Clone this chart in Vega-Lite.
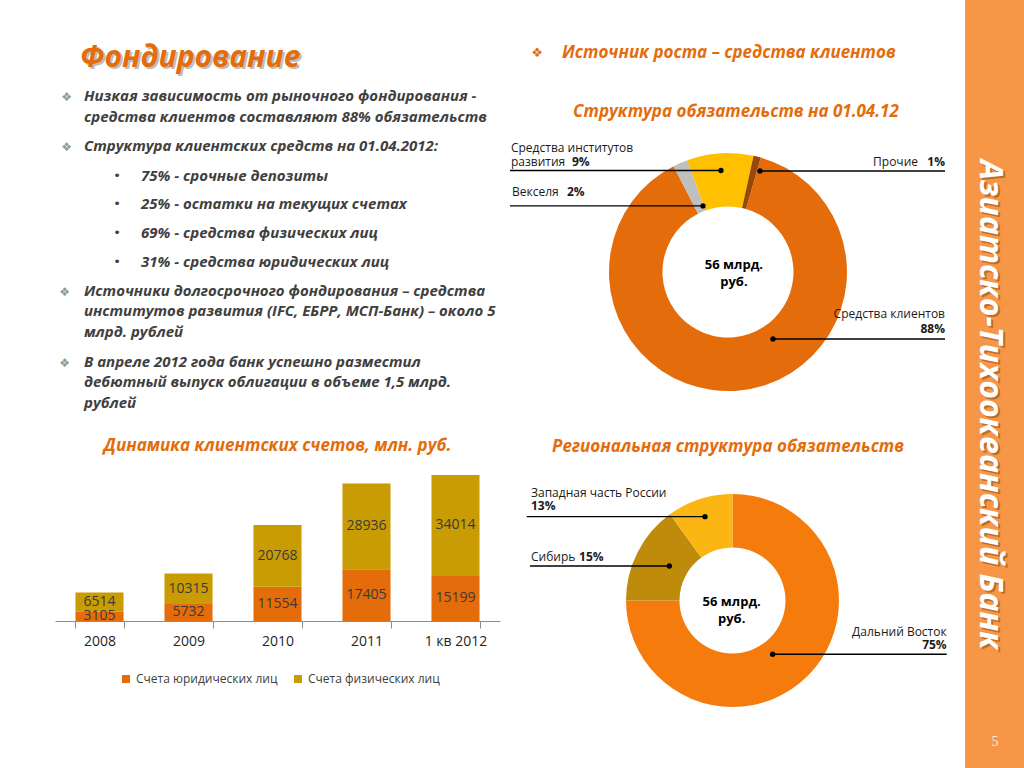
{
  "$schema": "https://vega.github.io/schema/vega-lite/v6.json",
  "padding": 0,
  "spacing": 0,
  "background": "white",
  "config": {
    "view": {"stroke": null},
    "concat": {"spacing": 0}
  },
  "resolve": {"scale": {"color": "independent", "theta": "independent", "x": "independent", "y": "independent"}},
  "datasets": {
    "bullets": [
      {"line": 0, "level": 0, "bullet": "❖", "text": "Низкая зависимость от рыночного фондирования -\nсредства клиентов составляют 88% обязательств"},
      {"line": 2, "level": 0, "bullet": "❖", "text": "Структура клиентских средств на 01.04.2012:"},
      {"line": 3, "level": 1, "bullet": "•", "text": "75% - срочные депозиты"},
      {"line": 4, "level": 1, "bullet": "•", "text": "25% - остатки на текущих счетах"},
      {"line": 5, "level": 1, "bullet": "•", "text": "69% - средства физических лиц"},
      {"line": 6, "level": 1, "bullet": "•", "text": "31% - средства юридических лиц"},
      {"line": 7, "level": 0, "bullet": "❖", "text": "Источники долгосрочного фондирования – средства\nинститутов развития (IFC, ЕБРР, МСП-Банк) – около 5\nмлрд. рублей"},
      {"line": 10, "level": 0, "bullet": "❖", "text": "В апреле 2012 года банк успешно разместил\nдебютный выпуск облигации в объеме 1,5 млрд.\nрублей"}
    ],
    "accounts": [
      {"period": "2008", "type": "Счета юридических лиц", "value": 3105},
      {"period": "2008", "type": "Счета физических лиц", "value": 6514},
      {"period": "2009", "type": "Счета юридических лиц", "value": 5732},
      {"period": "2009", "type": "Счета физических лиц", "value": 10315},
      {"period": "2010", "type": "Счета юридических лиц", "value": 11554},
      {"period": "2010", "type": "Счета физических лиц", "value": 20768},
      {"period": "2011", "type": "Счета юридических лиц", "value": 17405},
      {"period": "2011", "type": "Счета физических лиц", "value": 28936},
      {"period": "1 кв 2012", "type": "Счета юридических лиц", "value": 15199},
      {"period": "1 кв 2012", "type": "Счета физических лиц", "value": 34014}
    ],
    "liabilities": [
      {"n": 1, "item": "Средства клиентов", "share": 88, "label": "Средства клиентов", "pct": "88%"},
      {"n": 2, "item": "Векселя", "share": 2, "label": "Векселя", "pct": "2%"},
      {"n": 3, "item": "Средства институтов развития", "share": 9, "label": "Средства институтов\nразвития", "pct": "9%"},
      {"n": 4, "item": "Прочие", "share": 1, "label": "Прочие", "pct": "1%"}
    ],
    "regions": [
      {"n": 1, "item": "Дальний Восток", "share": 75, "label": "Дальний Восток", "pct": "75%"},
      {"n": 2, "item": "Сибирь", "share": 15, "label": "Сибирь", "pct": "15%"},
      {"n": 3, "item": "Западная часть России", "share": 10, "label": "Западная часть  России", "pct": "13%"}
    ],
    "notes": [
      {"id": "title", "text": "Фондирование"},
      {"id": "bullet", "text": "❖"},
      {"id": "h1", "text": "Источник роста – средства клиентов"},
      {"id": "h2", "text": "Структура обязательств на 01.04.12"},
      {"id": "c1", "text": "56 млрд.\nруб."},
      {"id": "h3", "text": "Региональная структура обязательств"},
      {"id": "c2", "text": "56 млрд.\nруб."},
      {"id": "band", "text": "Азиатско-Тихоокеанский Банк"},
      {"id": "page", "text": "5"}
    ]
  },
  "hconcat": [
    {
      "spacing": 0,
      "resolve": {"scale": {"color": "independent", "theta": "independent", "x": "independent", "y": "independent"}},
      "vconcat": [
        {
          "width": 505,
          "height": 437,
          "data": {"name": "bullets"},
          "resolve": {"scale": {"y": "independent"}},
          "layer": [
            {
              "data": {"name": "notes"},
              "transform": [{"filter": {"field": "id", "equal": "title"}}],
              "mark": {"type": "text", "align": "left", "baseline": "middle", "font": "Open Sans", "fontSize": 30, "fontWeight": "bold", "fontStyle": "italic", "color": "#7f7f7f", "opacity": 0.5, "dx": 2, "dy": 2},
              "encoding": {
                "x": {"datum": -0.07, "type": "quantitative", "scale": {"domain": [-1.4737, 7.386], "nice": false, "zero": false}, "axis": null},
                "y": {"datum": -1.158, "type": "quantitative", "scale": {"domain": [-3.318, 12.957], "nice": false, "zero": false, "reverse": true}, "axis": null},
                "text": {"field": "text"}
              }
            },
            {
              "data": {"name": "notes"},
              "transform": [{"filter": {"field": "id", "equal": "title"}}],
              "mark": {"type": "text", "align": "left", "baseline": "middle", "font": "Open Sans", "fontSize": 30, "fontWeight": "bold", "fontStyle": "italic", "color": "#E46C0A"},
              "encoding": {
                "x": {"datum": -0.07, "type": "quantitative", "scale": {"domain": [-1.4737, 7.386], "nice": false, "zero": false}, "axis": null},
                "y": {"datum": -1.158, "type": "quantitative", "scale": {"domain": [-3.318, 12.957], "nice": false, "zero": false, "reverse": true}, "axis": null},
                "text": {"field": "text"}
              }
            },
            {
              "transform": [{"filter": {"field": "level", "equal": 0}}, {"filter": {"field": "line", "lt": 3}}],
              "mark": {"type": "text", "align": "left", "baseline": "top", "font": "Open Sans", "fontSize": 15, "fontWeight": "bold", "fontStyle": "italic", "color": "#404040", "lineHeight": 20.5, "lineBreak": "\n"},
              "encoding": {
                "x": {"field": "level", "type": "quantitative", "scale": {"domain": [-1.4737, 7.386], "nice": false, "zero": false}, "axis": null},
                "y": {"field": "line", "type": "quantitative", "scale": {"domain": [-3.564, 13.916], "nice": false, "zero": false, "reverse": true}, "axis": null},
                "text": {"field": "text"}
              }
            },
            {
              "transform": [{"filter": {"field": "level", "equal": 0}}, {"filter": {"field": "line", "lt": 3}}],
              "mark": {"type": "text", "align": "right", "baseline": "top", "font": "DejaVu Sans", "fontSize": 12, "color": "#8A9A8A", "dx": -12, "dy": 3},
              "encoding": {
                "x": {"field": "level", "type": "quantitative", "scale": {"domain": [-1.4737, 7.386], "nice": false, "zero": false}, "axis": null},
                "y": {"field": "line", "type": "quantitative", "scale": {"domain": [-3.564, 13.916], "nice": false, "zero": false, "reverse": true}, "axis": null},
                "text": {"field": "bullet"}
              }
            },
            {
              "transform": [{"filter": {"field": "level", "equal": 0}}, {"filter": {"field": "line", "gt": 6}}],
              "mark": {"type": "text", "align": "left", "baseline": "top", "font": "Open Sans", "fontSize": 15, "fontWeight": "bold", "fontStyle": "italic", "color": "#404040", "lineHeight": 20.5, "lineBreak": "\n"},
              "encoding": {
                "x": {"field": "level", "type": "quantitative", "scale": {"domain": [-1.4737, 7.386], "nice": false, "zero": false}, "axis": null},
                "y": {"field": "line", "type": "quantitative", "scale": {"domain": [-5.069, 13.503], "nice": false, "zero": false, "reverse": true}, "axis": null},
                "text": {"field": "text"}
              }
            },
            {
              "transform": [{"filter": {"field": "level", "equal": 0}}, {"filter": {"field": "line", "gt": 6}}],
              "mark": {"type": "text", "align": "right", "baseline": "top", "font": "DejaVu Sans", "fontSize": 12, "color": "#8A9A8A", "dx": -14, "dy": 3},
              "encoding": {
                "x": {"field": "level", "type": "quantitative", "scale": {"domain": [-1.4737, 7.386], "nice": false, "zero": false}, "axis": null},
                "y": {"field": "line", "type": "quantitative", "scale": {"domain": [-5.069, 13.503], "nice": false, "zero": false, "reverse": true}, "axis": null},
                "text": {"field": "bullet"}
              }
            },
            {
              "transform": [{"filter": {"field": "level", "equal": 1}}],
              "mark": {"type": "text", "align": "left", "baseline": "top", "font": "Open Sans", "fontSize": 15, "fontWeight": "bold", "fontStyle": "italic", "color": "#404040"},
              "encoding": {
                "x": {"field": "level", "type": "quantitative", "scale": {"domain": [-1.4737, 7.386], "nice": false, "zero": false}, "axis": null},
                "y": {"field": "line", "type": "quantitative", "scale": {"domain": [-2.881, 12.361], "nice": false, "zero": false, "reverse": true}, "axis": null},
                "text": {"field": "text"}
              }
            },
            {
              "transform": [{"filter": {"field": "level", "equal": 1}}],
              "mark": {"type": "text", "align": "center", "baseline": "top", "font": "DejaVu Sans", "fontSize": 13, "color": "#404040", "dx": -24, "dy": 1},
              "encoding": {
                "x": {"field": "level", "type": "quantitative", "scale": {"domain": [-1.4737, 7.386], "nice": false, "zero": false}, "axis": null},
                "y": {"field": "line", "type": "quantitative", "scale": {"domain": [-2.881, 12.361], "nice": false, "zero": false, "reverse": true}, "axis": null},
                "text": {"field": "bullet"}
              }
            }
          ]
        },
        {
          "spacing": 0,
          "resolve": {"scale": {"color": "independent", "x": "independent", "y": "independent"}},
          "hconcat": [
            {
              "width": 55,
              "height": 10,
              "data": {"values": [{}]},
              "mark": {"type": "point", "opacity": 0}
            },
            {
              "width": 445,
              "height": 150,
              "title": {"text": "Динамика клиентских счетов,  млн. руб.", "font": "Open Sans", "fontSize": 17, "fontWeight": "bold", "fontStyle": "italic", "color": "#E46C0A", "offset": 16, "anchor": "middle"},
              "data": {"name": "accounts"},
              "transform": [
                {"stack": "value", "groupby": ["period"], "sort": [{"field": "type", "order": "descending"}], "as": ["v0", "v1"]},
                {"calculate": "(datum.v0 + datum.v1) / 2", "as": "mid"}
              ],
              "encoding": {
                "x": {"field": "period", "type": "ordinal", "sort": null, "scale": {"paddingInner": 0.46, "paddingOuter": 0.23},
                  "axis": {"title": null, "labelAngle": 0, "labelFont": "Open Sans", "labelFontSize": 14, "labelColor": "#262626", "labelPadding": 6, "domainColor": "#8C8C8C", "tickColor": "#8C8C8C", "tickSize": 7, "tickBand": "extent"}}
              },
              "layer": [
                {
                  "mark": {"type": "bar"},
                  "encoding": {
                    "y": {"field": "v1", "type": "quantitative", "scale": {"domain": [0, 50560], "nice": false}, "axis": null},
                    "y2": {"field": "v0"},
                    "color": {"field": "type", "type": "nominal",
                      "scale": {"domain": ["Счета юридических лиц", "Счета физических лиц"], "range": ["#E46C0A", "#C99C04"]},
                      "legend": {"orient": "none", "legendX": 65, "legendY": 202, "direction": "horizontal", "title": null, "symbolType": "square", "symbolSize": 64, "labelFont": "Open Sans", "labelFontSize": 12, "labelColor": "#404040", "columnPadding": 14}}
                  }
                },
                {
                  "mark": {"type": "text", "font": "Open Sans", "fontSize": 14, "color": "#3A3A3A", "baseline": "middle"},
                  "encoding": {
                    "y": {"field": "mid", "type": "quantitative"},
                    "text": {"field": "value", "type": "quantitative", "format": "d"}
                  }
                }
              ]
            }
          ]
        }
      ]
    },
    {
      "spacing": 0,
      "resolve": {"scale": {"color": "independent", "theta": "independent", "x": "independent", "y": "independent"}},
      "vconcat": [
        {
          "width": 460,
          "height": 430,
          "data": {"name": "liabilities"},
          "layer": [
            {
              "mark": {"type": "arc", "outerRadius": 119, "innerRadius": 65.5},
              "encoding": {
                "x": {"datum": 0, "type": "quantitative", "scale": {"domain": [-1.874, 1.992], "nice": false, "zero": false}, "axis": null},
                "y": {"datum": 0, "type": "quantitative", "scale": {"domain": [-2.286, 1.328], "nice": false, "zero": false, "reverse": true}, "axis": null},
                "theta": {"field": "share", "type": "quantitative", "stack": true, "scale": {"range": [0.2793, 6.5625]}},
                "order": {"field": "n", "type": "quantitative"},
                "color": {"field": "item", "type": "nominal", "scale": {"domain": ["Средства клиентов", "Векселя", "Средства институтов развития", "Прочие"], "range": ["#E46C0A", "#BFBFBF", "#FFC000", "#984807"]}, "legend": null}
              }
            },
            {
              "transform": [{"filter": {"field": "item", "equal": "Средства институтов развития"}}],
              "mark": {"type": "rule", "color": "#000000", "strokeWidth": 1.3},
              "encoding": {"x": {"datum": -1.832, "type": "quantitative", "scale": {"domain": [-1.874, 1.992], "nice": false, "zero": false}, "axis": null}, "x2": {"datum": -0.059}, "y": {"datum": -0.853, "type": "quantitative", "scale": {"domain": [-2.286, 1.328], "nice": false, "zero": false, "reverse": true}, "axis": null}}
            },
            {
              "transform": [{"filter": {"field": "item", "equal": "Векселя"}}],
              "mark": {"type": "rule", "color": "#000000", "strokeWidth": 1.3},
              "encoding": {"x": {"datum": -1.832, "type": "quantitative", "scale": {"domain": [-1.874, 1.992], "nice": false, "zero": false}, "axis": null}, "x2": {"datum": -0.21}, "y": {"datum": -0.555, "type": "quantitative", "scale": {"domain": [-2.286, 1.328], "nice": false, "zero": false, "reverse": true}, "axis": null}}
            },
            {
              "transform": [{"filter": {"field": "item", "equal": "Прочие"}}],
              "mark": {"type": "rule", "color": "#000000", "strokeWidth": 1.3},
              "encoding": {"x": {"datum": 0.269, "type": "quantitative", "scale": {"domain": [-1.874, 1.992], "nice": false, "zero": false}, "axis": null}, "x2": {"datum": 1.824}, "y": {"datum": -0.849, "type": "quantitative", "scale": {"domain": [-2.286, 1.328], "nice": false, "zero": false, "reverse": true}, "axis": null}}
            },
            {
              "transform": [{"filter": {"field": "item", "equal": "Средства клиентов"}}],
              "mark": {"type": "rule", "color": "#000000", "strokeWidth": 1.3},
              "encoding": {"x": {"datum": 0.378, "type": "quantitative", "scale": {"domain": [-1.874, 1.992], "nice": false, "zero": false}, "axis": null}, "x2": {"datum": 1.824}, "y": {"datum": 0.563, "type": "quantitative", "scale": {"domain": [-2.286, 1.328], "nice": false, "zero": false, "reverse": true}, "axis": null}}
            },
            {
              "transform": [{"filter": {"field": "item", "equal": "Средства институтов развития"}}],
              "mark": {"type": "point", "filled": true, "size": 28, "color": "#000000", "opacity": 1},
              "encoding": {"x": {"datum": -0.059, "type": "quantitative", "scale": {"domain": [-1.874, 1.992], "nice": false, "zero": false}, "axis": null}, "y": {"datum": -0.853, "type": "quantitative", "scale": {"domain": [-2.286, 1.328], "nice": false, "zero": false, "reverse": true}, "axis": null}}
            },
            {
              "transform": [{"filter": {"field": "item", "equal": "Векселя"}}],
              "mark": {"type": "point", "filled": true, "size": 28, "color": "#000000", "opacity": 1},
              "encoding": {"x": {"datum": -0.21, "type": "quantitative", "scale": {"domain": [-1.874, 1.992], "nice": false, "zero": false}, "axis": null}, "y": {"datum": -0.555, "type": "quantitative", "scale": {"domain": [-2.286, 1.328], "nice": false, "zero": false, "reverse": true}, "axis": null}}
            },
            {
              "transform": [{"filter": {"field": "item", "equal": "Прочие"}}],
              "mark": {"type": "point", "filled": true, "size": 28, "color": "#000000", "opacity": 1},
              "encoding": {"x": {"datum": 0.269, "type": "quantitative", "scale": {"domain": [-1.874, 1.992], "nice": false, "zero": false}, "axis": null}, "y": {"datum": -0.849, "type": "quantitative", "scale": {"domain": [-2.286, 1.328], "nice": false, "zero": false, "reverse": true}, "axis": null}}
            },
            {
              "transform": [{"filter": {"field": "item", "equal": "Средства клиентов"}}],
              "mark": {"type": "point", "filled": true, "size": 28, "color": "#000000", "opacity": 1},
              "encoding": {"x": {"datum": 0.378, "type": "quantitative", "scale": {"domain": [-1.874, 1.992], "nice": false, "zero": false}, "axis": null}, "y": {"datum": 0.563, "type": "quantitative", "scale": {"domain": [-2.286, 1.328], "nice": false, "zero": false, "reverse": true}, "axis": null}}
            },
            {
              "transform": [{"filter": {"field": "item", "equal": "Средства институтов развития"}}],
              "mark": {"type": "text", "align": "left", "baseline": "middle", "font": "Open Sans", "fontSize": 12, "color": "#1A1A1A", "lineBreak": "\n", "lineHeight": 14},
              "encoding": {"x": {"datum": -1.824, "type": "quantitative", "scale": {"domain": [-1.874, 1.992], "nice": false, "zero": false}, "axis": null}, "y": {"datum": -1.042, "type": "quantitative", "scale": {"domain": [-2.286, 1.328], "nice": false, "zero": false, "reverse": true}, "axis": null}, "text": {"field": "label"}}
            },
            {
              "transform": [{"filter": {"field": "item", "equal": "Векселя"}}],
              "mark": {"type": "text", "align": "left", "baseline": "middle", "font": "Open Sans", "fontSize": 12, "color": "#1A1A1A"},
              "encoding": {"x": {"datum": -1.815, "type": "quantitative", "scale": {"domain": [-1.874, 1.992], "nice": false, "zero": false}, "axis": null}, "y": {"datum": -0.672, "type": "quantitative", "scale": {"domain": [-2.286, 1.328], "nice": false, "zero": false, "reverse": true}, "axis": null}, "text": {"field": "label"}}
            },
            {
              "transform": [{"filter": {"field": "item", "equal": "Прочие"}}],
              "mark": {"type": "text", "align": "right", "baseline": "middle", "font": "Open Sans", "fontSize": 12, "color": "#1A1A1A"},
              "encoding": {"x": {"datum": 1.597, "type": "quantitative", "scale": {"domain": [-1.874, 1.992], "nice": false, "zero": false}, "axis": null}, "y": {"datum": -0.924, "type": "quantitative", "scale": {"domain": [-2.286, 1.328], "nice": false, "zero": false, "reverse": true}, "axis": null}, "text": {"field": "label"}}
            },
            {
              "transform": [{"filter": {"field": "item", "equal": "Средства клиентов"}}],
              "mark": {"type": "text", "align": "right", "baseline": "middle", "font": "Open Sans", "fontSize": 12, "color": "#1A1A1A"},
              "encoding": {"x": {"datum": 1.824, "type": "quantitative", "scale": {"domain": [-1.874, 1.992], "nice": false, "zero": false}, "axis": null}, "y": {"datum": 0.353, "type": "quantitative", "scale": {"domain": [-2.286, 1.328], "nice": false, "zero": false, "reverse": true}, "axis": null}, "text": {"field": "label"}}
            },
            {
              "transform": [{"filter": {"field": "item", "equal": "Средства институтов развития"}}],
              "mark": {"type": "text", "align": "left", "baseline": "middle", "font": "Open Sans", "fontSize": 12, "fontWeight": "bold", "color": "#1A1A1A"},
              "encoding": {"x": {"datum": -1.311, "type": "quantitative", "scale": {"domain": [-1.874, 1.992], "nice": false, "zero": false}, "axis": null}, "y": {"datum": -0.924, "type": "quantitative", "scale": {"domain": [-2.286, 1.328], "nice": false, "zero": false, "reverse": true}, "axis": null}, "text": {"field": "pct"}}
            },
            {
              "transform": [{"filter": {"field": "item", "equal": "Векселя"}}],
              "mark": {"type": "text", "align": "left", "baseline": "middle", "font": "Open Sans", "fontSize": 12, "fontWeight": "bold", "color": "#1A1A1A"},
              "encoding": {"x": {"datum": -1.353, "type": "quantitative", "scale": {"domain": [-1.874, 1.992], "nice": false, "zero": false}, "axis": null}, "y": {"datum": -0.672, "type": "quantitative", "scale": {"domain": [-2.286, 1.328], "nice": false, "zero": false, "reverse": true}, "axis": null}, "text": {"field": "pct"}}
            },
            {
              "transform": [{"filter": {"field": "item", "equal": "Прочие"}}],
              "mark": {"type": "text", "align": "right", "baseline": "middle", "font": "Open Sans", "fontSize": 12, "fontWeight": "bold", "color": "#1A1A1A"},
              "encoding": {"x": {"datum": 1.824, "type": "quantitative", "scale": {"domain": [-1.874, 1.992], "nice": false, "zero": false}, "axis": null}, "y": {"datum": -0.924, "type": "quantitative", "scale": {"domain": [-2.286, 1.328], "nice": false, "zero": false, "reverse": true}, "axis": null}, "text": {"field": "pct"}}
            },
            {
              "transform": [{"filter": {"field": "item", "equal": "Средства клиентов"}}],
              "mark": {"type": "text", "align": "right", "baseline": "middle", "font": "Open Sans", "fontSize": 12, "fontWeight": "bold", "color": "#1A1A1A"},
              "encoding": {"x": {"datum": 1.824, "type": "quantitative", "scale": {"domain": [-1.874, 1.992], "nice": false, "zero": false}, "axis": null}, "y": {"datum": 0.479, "type": "quantitative", "scale": {"domain": [-2.286, 1.328], "nice": false, "zero": false, "reverse": true}, "axis": null}, "text": {"field": "pct"}}
            },
            {
              "data": {"name": "notes"},
              "transform": [{"filter": {"field": "id", "equal": "c1"}}],
              "mark": {"type": "text", "align": "center", "baseline": "middle", "font": "Open Sans", "fontSize": 13, "fontWeight": "bold", "color": "#000000", "lineBreak": "\n", "lineHeight": 17},
              "encoding": {"x": {"datum": 0.05, "type": "quantitative", "scale": {"domain": [-1.874, 1.992], "nice": false, "zero": false}, "axis": null}, "y": {"datum": -0.059, "type": "quantitative", "scale": {"domain": [-2.286, 1.328], "nice": false, "zero": false, "reverse": true}, "axis": null}, "text": {"field": "text"}}
            },
            {
              "data": {"name": "notes"},
              "transform": [{"filter": {"field": "id", "equal": "bullet"}}],
              "mark": {"type": "text", "align": "center", "baseline": "middle", "font": "DejaVu Sans", "fontSize": 13, "color": "#E46C0A"},
              "encoding": {"x": {"datum": -1.605, "type": "quantitative", "scale": {"domain": [-1.874, 1.992], "nice": false, "zero": false}, "axis": null}, "y": {"datum": -1.84, "type": "quantitative", "scale": {"domain": [-2.286, 1.328], "nice": false, "zero": false, "reverse": true}, "axis": null}, "text": {"field": "text"}}
            },
            {
              "data": {"name": "notes"},
              "transform": [{"filter": {"field": "id", "equal": "h1"}}],
              "mark": {"type": "text", "align": "left", "baseline": "middle", "font": "Open Sans", "fontSize": 17, "fontWeight": "bold", "fontStyle": "italic", "color": "#E46C0A"},
              "encoding": {"x": {"datum": -1.395, "type": "quantitative", "scale": {"domain": [-1.874, 1.992], "nice": false, "zero": false}, "axis": null}, "y": {"datum": -1.84, "type": "quantitative", "scale": {"domain": [-2.286, 1.328], "nice": false, "zero": false, "reverse": true}, "axis": null}, "text": {"field": "text"}}
            },
            {
              "data": {"name": "notes"},
              "transform": [{"filter": {"field": "id", "equal": "h2"}}],
              "mark": {"type": "text", "align": "center", "baseline": "middle", "font": "Open Sans", "fontSize": 17, "fontWeight": "bold", "fontStyle": "italic", "color": "#E46C0A"},
              "encoding": {"x": {"datum": 0.067, "type": "quantitative", "scale": {"domain": [-1.874, 1.992], "nice": false, "zero": false}, "axis": null}, "y": {"datum": -1.345, "type": "quantitative", "scale": {"domain": [-2.286, 1.328], "nice": false, "zero": false, "reverse": true}, "axis": null}, "text": {"field": "text"}}
            }
          ]
        },
        {
          "width": 460,
          "height": 338,
          "data": {"name": "regions"},
          "layer": [
            {
              "mark": {"type": "arc", "outerRadius": 106.5, "innerRadius": 53},
              "encoding": {
                "x": {"datum": 0, "type": "quantitative", "scale": {"domain": [-2.136, 2.183], "nice": false, "zero": false}, "axis": null},
                "y": {"datum": 0, "type": "quantitative", "scale": {"domain": [-1.601, 1.573], "nice": false, "zero": false, "reverse": true}, "axis": null},
                "theta": {"field": "share", "type": "quantitative", "stack": true},
                "order": {"field": "n", "type": "quantitative"},
                "color": {"field": "item", "type": "nominal", "scale": {"domain": ["Дальний Восток", "Сибирь", "Западная часть России"], "range": ["#F47B0C", "#BF8B0B", "#FBB614"]}, "legend": null}
              }
            },
            {
              "transform": [{"filter": {"field": "item", "equal": "Западная часть России"}}],
              "mark": {"type": "rule", "color": "#000000", "strokeWidth": 1.3},
              "encoding": {"x": {"datum": -1.932, "type": "quantitative", "scale": {"domain": [-2.136, 2.183], "nice": false, "zero": false}, "axis": null}, "x2": {"datum": -0.258}, "y": {"datum": -0.787, "type": "quantitative", "scale": {"domain": [-1.601, 1.573], "nice": false, "zero": false, "reverse": true}, "axis": null}}
            },
            {
              "transform": [{"filter": {"field": "item", "equal": "Сибирь"}}],
              "mark": {"type": "rule", "color": "#000000", "strokeWidth": 1.3},
              "encoding": {"x": {"datum": -1.901, "type": "quantitative", "scale": {"domain": [-2.136, 2.183], "nice": false, "zero": false}, "axis": null}, "x2": {"datum": -0.593}, "y": {"datum": -0.324, "type": "quantitative", "scale": {"domain": [-1.601, 1.573], "nice": false, "zero": false, "reverse": true}, "axis": null}}
            },
            {
              "transform": [{"filter": {"field": "item", "equal": "Дальний Восток"}}],
              "mark": {"type": "rule", "color": "#000000", "strokeWidth": 1.3},
              "encoding": {"x": {"datum": 0.377, "type": "quantitative", "scale": {"domain": [-2.136, 2.183], "nice": false, "zero": false}, "axis": null}, "x2": {"datum": 2.011}, "y": {"datum": 0.505, "type": "quantitative", "scale": {"domain": [-1.601, 1.573], "nice": false, "zero": false, "reverse": true}, "axis": null}}
            },
            {
              "transform": [{"filter": {"field": "item", "equal": "Западная часть России"}}],
              "mark": {"type": "point", "filled": true, "size": 28, "color": "#000000", "opacity": 1},
              "encoding": {"x": {"datum": -0.258, "type": "quantitative", "scale": {"domain": [-2.136, 2.183], "nice": false, "zero": false}, "axis": null}, "y": {"datum": -0.787, "type": "quantitative", "scale": {"domain": [-1.601, 1.573], "nice": false, "zero": false, "reverse": true}, "axis": null}}
            },
            {
              "transform": [{"filter": {"field": "item", "equal": "Сибирь"}}],
              "mark": {"type": "point", "filled": true, "size": 28, "color": "#000000", "opacity": 1},
              "encoding": {"x": {"datum": -0.593, "type": "quantitative", "scale": {"domain": [-2.136, 2.183], "nice": false, "zero": false}, "axis": null}, "y": {"datum": -0.324, "type": "quantitative", "scale": {"domain": [-1.601, 1.573], "nice": false, "zero": false, "reverse": true}, "axis": null}}
            },
            {
              "transform": [{"filter": {"field": "item", "equal": "Дальний Восток"}}],
              "mark": {"type": "point", "filled": true, "size": 28, "color": "#000000", "opacity": 1},
              "encoding": {"x": {"datum": 0.377, "type": "quantitative", "scale": {"domain": [-2.136, 2.183], "nice": false, "zero": false}, "axis": null}, "y": {"datum": 0.505, "type": "quantitative", "scale": {"domain": [-1.601, 1.573], "nice": false, "zero": false, "reverse": true}, "axis": null}}
            },
            {
              "transform": [{"filter": {"field": "item", "equal": "Западная часть России"}}],
              "mark": {"type": "text", "align": "left", "baseline": "middle", "font": "Open Sans", "fontSize": 12, "color": "#1A1A1A"},
              "encoding": {"x": {"datum": -1.892, "type": "quantitative", "scale": {"domain": [-2.136, 2.183], "nice": false, "zero": false}, "axis": null}, "y": {"datum": -1.012, "type": "quantitative", "scale": {"domain": [-1.601, 1.573], "nice": false, "zero": false, "reverse": true}, "axis": null}, "text": {"field": "label"}}
            },
            {
              "transform": [{"filter": {"field": "item", "equal": "Сибирь"}}],
              "mark": {"type": "text", "align": "left", "baseline": "middle", "font": "Open Sans", "fontSize": 12, "color": "#1A1A1A"},
              "encoding": {"x": {"datum": -1.892, "type": "quantitative", "scale": {"domain": [-2.136, 2.183], "nice": false, "zero": false}, "axis": null}, "y": {"datum": -0.411, "type": "quantitative", "scale": {"domain": [-1.601, 1.573], "nice": false, "zero": false, "reverse": true}, "axis": null}, "text": {"field": "label"}}
            },
            {
              "transform": [{"filter": {"field": "item", "equal": "Дальний Восток"}}],
              "mark": {"type": "text", "align": "right", "baseline": "middle", "font": "Open Sans", "fontSize": 12, "color": "#1A1A1A"},
              "encoding": {"x": {"datum": 2.011, "type": "quantitative", "scale": {"domain": [-2.136, 2.183], "nice": false, "zero": false}, "axis": null}, "y": {"datum": 0.293, "type": "quantitative", "scale": {"domain": [-1.601, 1.573], "nice": false, "zero": false, "reverse": true}, "axis": null}, "text": {"field": "label"}}
            },
            {
              "transform": [{"filter": {"field": "item", "equal": "Западная часть России"}}],
              "mark": {"type": "text", "align": "left", "baseline": "middle", "font": "Open Sans", "fontSize": 12, "fontWeight": "bold", "color": "#1A1A1A"},
              "encoding": {"x": {"datum": -1.892, "type": "quantitative", "scale": {"domain": [-2.136, 2.183], "nice": false, "zero": false}, "axis": null}, "y": {"datum": -0.887, "type": "quantitative", "scale": {"domain": [-1.601, 1.573], "nice": false, "zero": false, "reverse": true}, "axis": null}, "text": {"field": "pct"}}
            },
            {
              "transform": [{"filter": {"field": "item", "equal": "Сибирь"}}],
              "mark": {"type": "text", "align": "left", "baseline": "middle", "font": "Open Sans", "fontSize": 12, "fontWeight": "bold", "color": "#1A1A1A"},
              "encoding": {"x": {"datum": -1.441, "type": "quantitative", "scale": {"domain": [-2.136, 2.183], "nice": false, "zero": false}, "axis": null}, "y": {"datum": -0.411, "type": "quantitative", "scale": {"domain": [-1.601, 1.573], "nice": false, "zero": false, "reverse": true}, "axis": null}, "text": {"field": "pct"}}
            },
            {
              "transform": [{"filter": {"field": "item", "equal": "Дальний Восток"}}],
              "mark": {"type": "text", "align": "right", "baseline": "middle", "font": "Open Sans", "fontSize": 12, "fontWeight": "bold", "color": "#1A1A1A"},
              "encoding": {"x": {"datum": 2.011, "type": "quantitative", "scale": {"domain": [-2.136, 2.183], "nice": false, "zero": false}, "axis": null}, "y": {"datum": 0.418, "type": "quantitative", "scale": {"domain": [-1.601, 1.573], "nice": false, "zero": false, "reverse": true}, "axis": null}, "text": {"field": "pct"}}
            },
            {
              "data": {"name": "notes"},
              "transform": [{"filter": {"field": "id", "equal": "c2"}}],
              "mark": {"type": "text", "align": "center", "baseline": "middle", "font": "Open Sans", "fontSize": 13, "fontWeight": "bold", "color": "#000000", "lineBreak": "\n", "lineHeight": 17},
              "encoding": {"x": {"datum": -0.008, "type": "quantitative", "scale": {"domain": [-2.136, 2.183], "nice": false, "zero": false}, "axis": null}, "y": {"datum": 0.017, "type": "quantitative", "scale": {"domain": [-1.601, 1.573], "nice": false, "zero": false, "reverse": true}, "axis": null}, "text": {"field": "text"}}
            },
            {
              "data": {"name": "notes"},
              "transform": [{"filter": {"field": "id", "equal": "h3"}}],
              "mark": {"type": "text", "align": "center", "baseline": "middle", "font": "Open Sans", "fontSize": 17, "fontWeight": "bold", "fontStyle": "italic", "color": "#E46C0A"},
              "encoding": {"x": {"datum": -0.042, "type": "quantitative", "scale": {"domain": [-2.136, 2.183], "nice": false, "zero": false}, "axis": null}, "y": {"datum": -1.444, "type": "quantitative", "scale": {"domain": [-1.601, 1.573], "nice": false, "zero": false, "reverse": true}, "axis": null}, "text": {"field": "text"}}
            }
          ]
        }
      ]
    },
    {
      "width": 59,
      "height": 768,
      "view": {"fill": "#F79646", "stroke": null},
      "data": {"name": "notes"},
      "layer": [
        {
          "transform": [{"filter": {"field": "id", "equal": "band"}}],
          "mark": {"type": "text", "angle": 90, "align": "center", "baseline": "middle", "font": "Open Sans", "fontSize": 32, "fontWeight": "bold", "fontStyle": "italic", "color": "#7A3E0A", "opacity": 0.45, "dx": 2, "dy": -2},
          "encoding": {"x": {"datum": 0.424, "type": "quantitative", "scale": {"domain": [0, 1], "nice": false, "zero": false}, "axis": null}, "y": {"datum": 0.527, "type": "quantitative", "scale": {"domain": [0, 1], "nice": false, "zero": false, "reverse": true}, "axis": null}, "text": {"field": "text"}}
        },
        {
          "transform": [{"filter": {"field": "id", "equal": "band"}}],
          "mark": {"type": "text", "angle": 90, "align": "center", "baseline": "middle", "font": "Open Sans", "fontSize": 32, "fontWeight": "bold", "fontStyle": "italic", "color": "#FFFFFF"},
          "encoding": {"x": {"datum": 0.424, "type": "quantitative", "scale": {"domain": [0, 1], "nice": false, "zero": false}, "axis": null}, "y": {"datum": 0.527, "type": "quantitative", "scale": {"domain": [0, 1], "nice": false, "zero": false, "reverse": true}, "axis": null}, "text": {"field": "text"}}
        },
        {
          "transform": [{"filter": {"field": "id", "equal": "page"}}],
          "mark": {"type": "text", "align": "center", "baseline": "middle", "font": "Liberation Serif", "fontSize": 14, "color": "#FDE9D9"},
          "encoding": {"x": {"datum": 0.508, "type": "quantitative", "scale": {"domain": [0, 1], "nice": false, "zero": false}, "axis": null}, "y": {"datum": 0.966, "type": "quantitative", "scale": {"domain": [0, 1], "nice": false, "zero": false, "reverse": true}, "axis": null}, "text": {"field": "text"}}
        }
      ]
    }
  ]
}
